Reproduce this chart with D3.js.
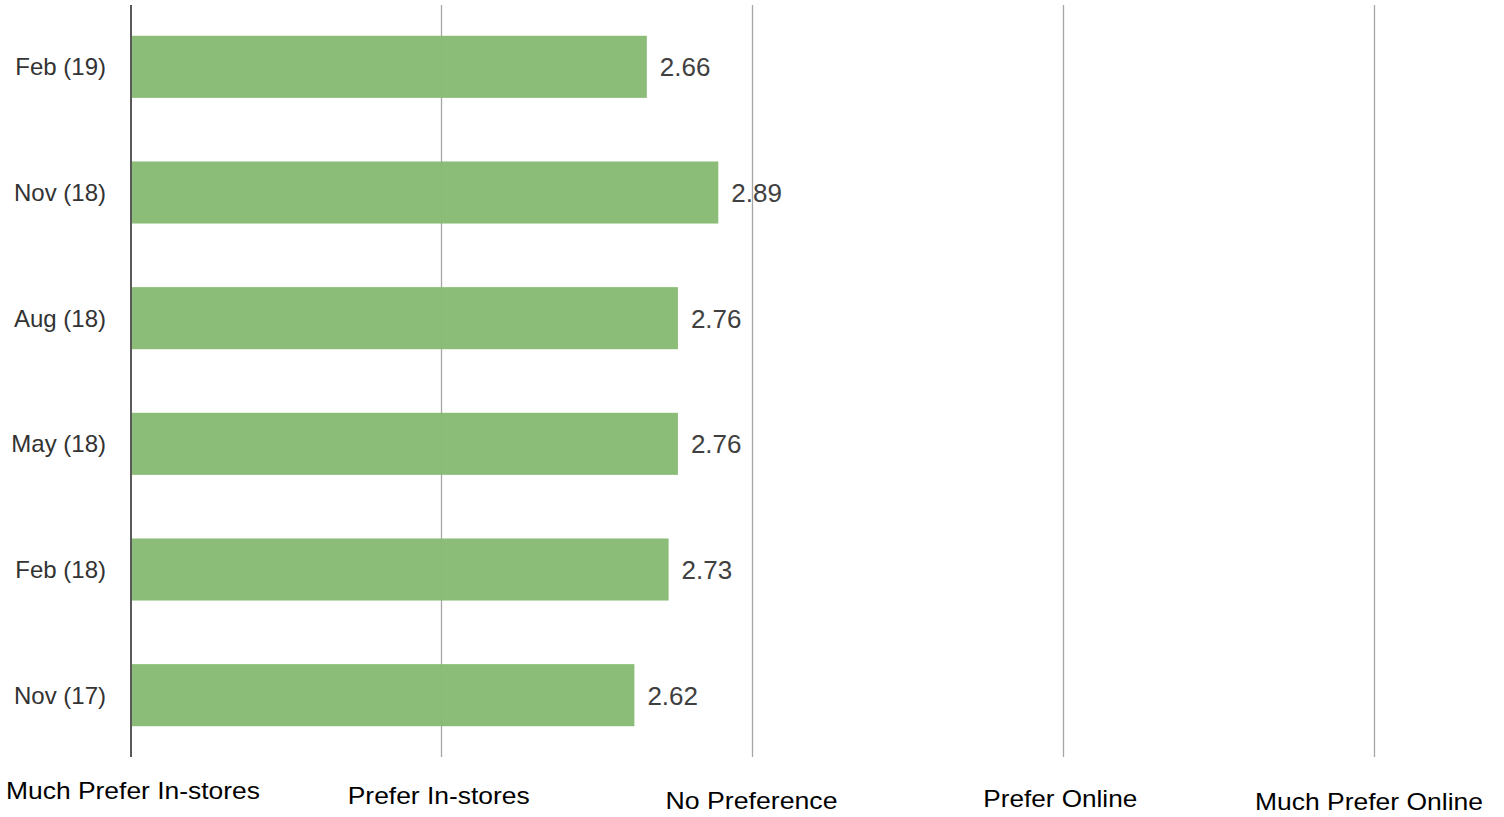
<!DOCTYPE html>
<html>
<head>
<meta charset="utf-8">
<script src="https://cdn.jsdelivr.net/npm/d3@7"></script>
<style>
  html, body { margin: 0; padding: 0; background: #fff; }
  svg { display: block; font-family: "Liberation Sans", Arial, sans-serif; }
</style>
</head>
<body>
<svg id="chart" width="1504" height="817"></svg>
<script>
const categories = ["Feb (19)", "Nov (18)", "Aug (18)", "May (18)", "Feb (18)", "Nov (17)"];
const values = [2.66, 2.89, 2.76, 2.76, 2.73, 2.62];
const tickValues = [1, 2, 3, 4, 5];
const tickLabels = ["Much Prefer In-stores", "Prefer In-stores", "No Preference", "Prefer Online", "Much Prefer Online"];

const svg = d3.select("#chart");
const x = d3.scaleLinear().domain([1, 5]).range([131, 1374]);
const y = d3.scaleBand().domain(categories).range([4, 758]).paddingInner(0.506).paddingOuter(0.253);

// gridlines
svg.append("g").selectAll("line").data(tickValues.slice(1)).join("line")
  .attr("x1", d => Math.floor(x(d)) + 0.5).attr("x2", d => Math.floor(x(d)) + 0.5)
  .attr("y1", 5).attr("y2", 757)
  .attr("stroke", "#a6a6a6").attr("stroke-width", 1.3);

// bars
svg.append("g").selectAll("rect").data(categories).join("rect")
  .attr("x", x(1))
  .attr("y", d => y(d))
  .attr("width", (d, i) => x(values[i]) - x(1))
  .attr("height", y.bandwidth())
  .attr("fill", "#85b972")
  .attr("fill-opacity", 0.95);

// axis line
svg.append("line")
  .attr("x1", 131).attr("x2", 131).attr("y1", 5).attr("y2", 757)
  .attr("stroke", "#595959").attr("stroke-width", 2);

// value labels
svg.append("g").selectAll("text").data(categories).join("text")
  .attr("x", (d, i) => x(values[i]) + 13)
  .attr("y", d => y(d) + y.bandwidth() / 2)
  .attr("dy", "0.36em")
  .attr("font-size", 26)
  .attr("fill", "#404040")
  .text((d, i) => values[i].toFixed(2));

// category labels
svg.append("g").selectAll("text").data(categories).join("text")
  .attr("x", 106)
  .attr("y", d => y(d) + y.bandwidth() / 2)
  .attr("dy", "0.36em")
  .attr("text-anchor", "end")
  .attr("font-size", 24)
  .attr("fill", "#333333")
  .text(d => d);

// x tick labels
const labelBase = [799, 804, 809, 807, 810];
const labelLen = [254, 182, 172, 154, 228];
const labelCenter = [133, 439, 752, 1060, 1369];
svg.append("g").selectAll("text").data(tickValues).join("text")
  .attr("x", (d, i) => x(d) + (labelCenter[i] - Math.round(x(d))) - labelLen[i] / 2)
  .attr("y", (d, i) => labelBase[i])
  .attr("font-size", 24)
  .attr("fill", "#000")
  .attr("textLength", (d, i) => labelLen[i])
  .attr("lengthAdjust", "spacingAndGlyphs")
  .text((d, i) => tickLabels[i]);
</script>
</body>
</html>
